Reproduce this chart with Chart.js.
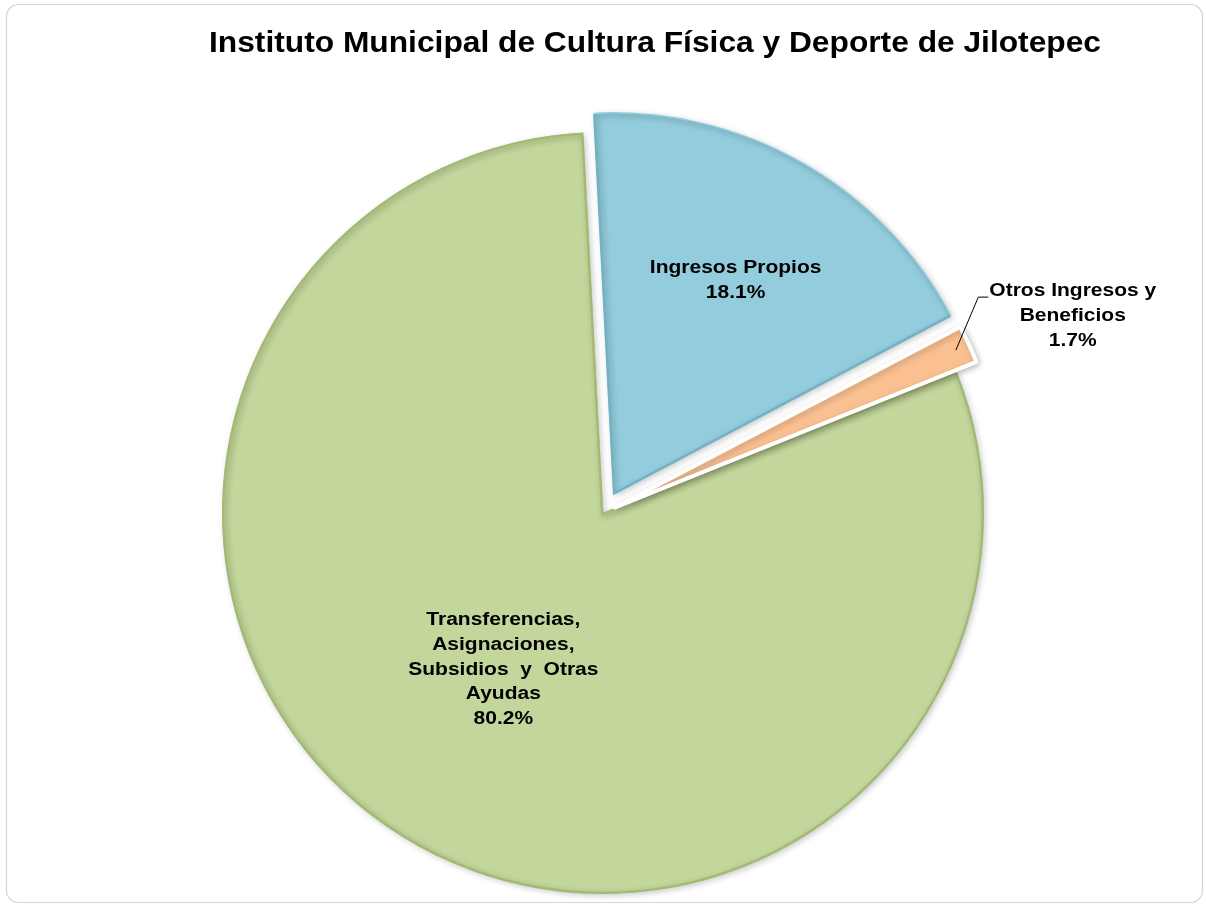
<!DOCTYPE html>
<html><head><meta charset="utf-8">
<script src="https://cdn.jsdelivr.net/npm/chart.js@4"></script>
<style>html,body{margin:0;padding:0;background:#fff;overflow:hidden}</style>
</head><body>
<canvas id="c" width="1206" height="938" style="display:block;width:1206px;height:938px"></canvas>
<script>
const chartTitle = 'Instituto Municipal de Cultura Física y Deporte de Jilotepec';
const categories = ['Transferencias, Asignaciones, Subsidios y Otras Ayudas', 'Ingresos Propios', 'Otros Ingresos y Beneficios'];
const labelLines = [['Transferencias,', 'Asignaciones,', 'Subsidios  y  Otras', 'Ayudas'], ['Ingresos Propios'], ['Otros Ingresos y', 'Beneficios']];
const shares = [80.2, 18.1, 1.7];
const percentLabels = ['80.2%', '18.1%', '1.7%'];
const sliceColors = ['#c3d69b', '#93cddd', '#fac090'];
const sliceBorders = ['#a2bb73', '#72b2c7', '#ffffff'];
const sliceBorderWidths = [2, 2, 4];
const sliceBorderAlign = ['inner', 'inner', 'center'];
const sliceOffsets = [0, 84, 46];
const labelRadius = [0.485, 0.65, 1.308];
const labelAngleShift = [0, 0, 1.95];
const labelOutside = [false, false, true];

const framePlugin = {
  id: 'frame',
  beforeDraw(chart) {
    const ctx = chart.ctx;
    ctx.save();
    ctx.fillStyle = '#fff';
    ctx.fillRect(0, 0, chart.width, chart.height);
    ctx.strokeStyle = '#d4d4d4';
    ctx.lineWidth = 1.2;
    ctx.beginPath();
    ctx.roundRect(6.5, 4.5, 1196, 898, 12);
    ctx.stroke();
    ctx.restore();
  },
  afterDraw(chart) {
    const ctx = chart.ctx;
    ctx.save();
    ctx.font = 'bold 30px "Liberation Sans", Arial, sans-serif';
    ctx.fillStyle = '#000';
    ctx.textAlign = 'center';
    ctx.textBaseline = 'alphabetic';
    const w = ctx.measureText(chartTitle).width;
    ctx.translate(655, 52);
    ctx.scale(892 / w, 1);
    ctx.fillText(chartTitle, 0, 0);
    ctx.restore();
  }
};

const shadowPlugin = {
  id: 'sliceShadow',
  beforeDatasetDraw(chart) {
    const ctx = chart.ctx;
    ctx.save();
    ctx.shadowColor = 'rgba(0,0,0,0.22)';
    ctx.shadowBlur = 6;
    ctx.shadowOffsetX = 2;
    ctx.shadowOffsetY = 2;
  },
  afterDatasetDraw(chart) {
    chart.ctx.restore();
  }
};

const labelPlugin = {
  id: 'sliceLabels',
  afterDatasetsDraw(chart) {
    const ctx = chart.ctx;
    const meta = chart.getDatasetMeta(0);
    const lh = 24.7;
    meta.data.forEach((arc, i) => {
      const p = arc.getProps(['x', 'y', 'startAngle', 'endAngle', 'outerRadius'], true);
      const mid = (p.startAngle + p.endAngle) / 2;
      const off = (arc.options.offset || 0) / 4;
      const cx = p.x + Math.cos(mid) * off;
      const cy = p.y + Math.sin(mid) * off;
      const la = mid + labelAngleShift[i] * Math.PI / 180;
      const rr = p.outerRadius * labelRadius[i];
      const lx = cx + Math.cos(la) * rr;
      const ly = cy + Math.sin(la) * rr;
      const lines = labelLines[i].concat([percentLabels[i]]);
      ctx.save();
      ctx.font = 'bold 17.5px "Liberation Sans", Arial, sans-serif';
      ctx.fillStyle = '#000';
      ctx.textAlign = 'center';
      ctx.textBaseline = 'alphabetic';
      const sx = 1.2;
      const top = ly - (lines.length * lh) / 2;
      const base0 = top + lh / 2 + 6;
      lines.forEach((t, k) => {
        ctx.save();
        ctx.translate(lx, base0 + k * lh);
        ctx.scale(sx, 1);
        ctx.fillText(t, 0, 0);
        ctx.restore();
      });
      if (labelOutside[i]) {
        const w1 = ctx.measureText(lines[0]).width * sx;
        const left = lx - w1 / 2;
        const ex = cx + Math.cos(mid) * p.outerRadius * 0.99;
        const ey = cy + Math.sin(mid) * p.outerRadius * 0.99;
        ctx.strokeStyle = '#000';
        ctx.lineWidth = 1;
        ctx.beginPath();
        ctx.moveTo(ex, ey);
        ctx.lineTo(left - 11, base0 + 1);
        ctx.lineTo(left - 1, base0 + 1);
        ctx.stroke();
      }
      ctx.restore();
    });
  }
};

new Chart(document.getElementById('c'), {
  type: 'pie',
  data: {
    labels: categories,
    datasets: [{
      data: shares,
      backgroundColor: sliceColors,
      borderColor: sliceBorders,
      borderWidth: sliceBorderWidths,
      borderAlign: sliceBorderAlign,
      offset: sliceOffsets,
      hoverOffset: 0,
      hoverBorderWidth: 0
    }]
  },
  options: {
    responsive: false,
    animation: false,
    devicePixelRatio: 1,
    rotation: 68.28,
    layout: { padding: { top: 88, bottom: 0, left: 0, right: 0 } },
    plugins: {
      legend: { display: false },
      tooltip: { enabled: false },
      title: { display: false }
    },
    events: []
  },
  plugins: [framePlugin, shadowPlugin, labelPlugin]
});
</script>
</body></html>
